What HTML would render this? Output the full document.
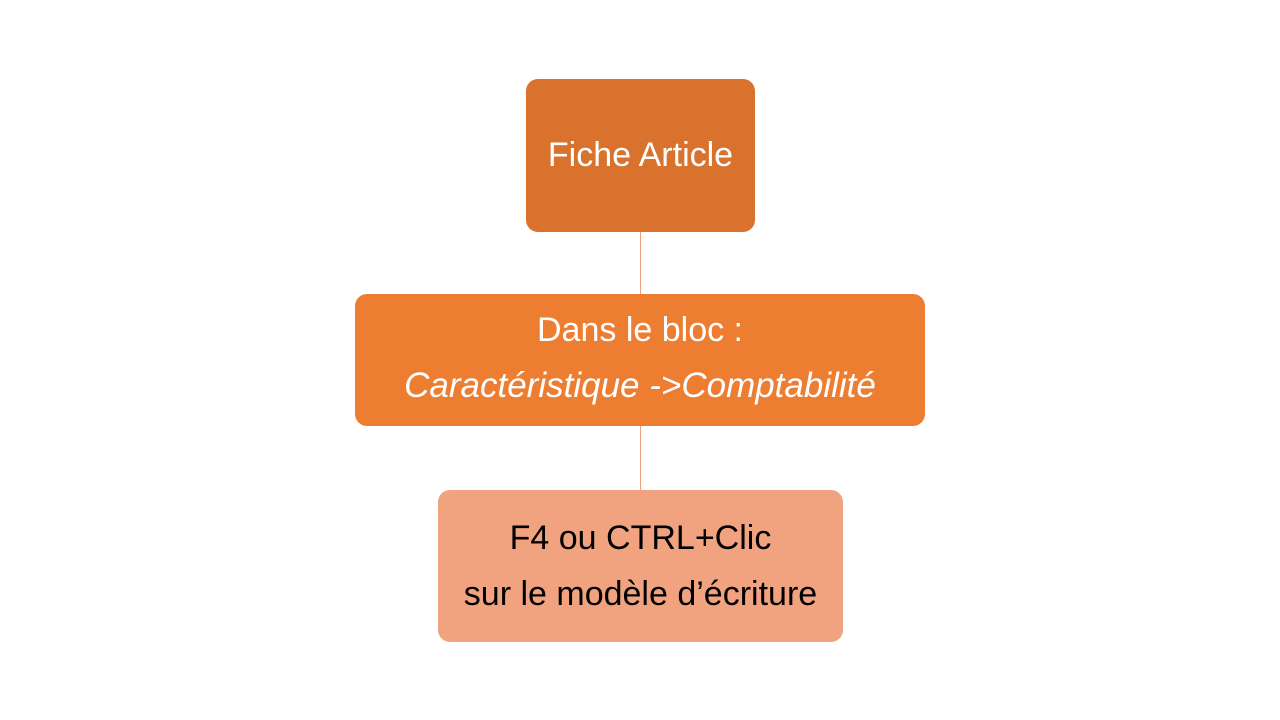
<!DOCTYPE html>
<html><head><meta charset="utf-8"><style>
body{margin:0;width:1280px;height:720px;background:#fff;position:relative;overflow:hidden;font-family:"Liberation Sans",sans-serif}
.b{position:absolute;border-radius:12px;display:flex;flex-direction:column;align-items:center;justify-content:center;text-align:center;font-size:34px}
.l{position:absolute;left:640px;width:1px;background:#f0a07a}
</style></head><body>
<div class="b" style="left:526px;top:79px;width:229px;height:153px;background:#d8722d;color:#fff">Fiche Article</div>
<div class="l" style="top:232px;height:62px"></div>
<div class="b" style="left:355px;top:294px;width:570px;height:132px;background:#ed7d31;color:#fff;line-height:56px"><div style="margin-top:-4px">Dans le bloc :</div><div style="font-style:italic;font-size:35px">Caractéristique -&gt;Comptabilité</div></div>
<div class="l" style="top:426px;height:64px"></div>
<div class="b" style="left:438px;top:490px;width:405px;height:152px;background:#f1a37f;color:#000;line-height:56px"><div>F4 ou CTRL+Clic</div><div>sur le modèle d’écriture</div></div>
</body></html>
